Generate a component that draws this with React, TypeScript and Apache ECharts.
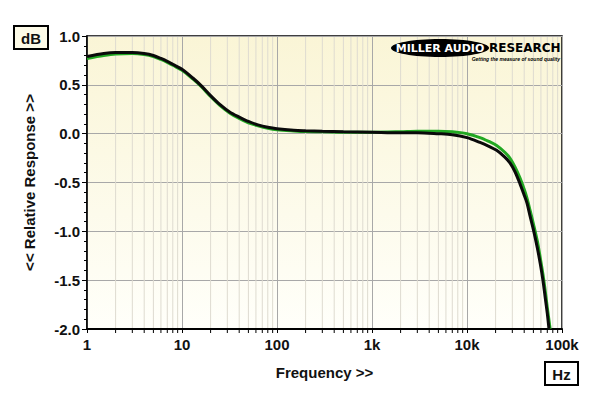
import React, { useEffect, useRef } from "react";
import * as echarts from "echarts";

const blackFreq = [1, 1.5, 2, 3, 4, 5, 6, 7, 8, 10, 13, 16, 20, 25, 32, 40, 50, 63, 80, 100, 150, 200, 300, 500, 1000, 2000, 3000, 5000, 7000, 10000, 13700, 17000, 20500, 25000, 28300, 32000, 36000, 40000, 42800, 46000, 50200, 55000, 59000, 63000, 66400, 70000, 73000];
const blackDb = [0.79, 0.82, 0.83, 0.83, 0.82, 0.8, 0.77, 0.74, 0.71, 0.66, 0.57, 0.49, 0.39, 0.3, 0.22, 0.17, 0.125, 0.09, 0.065, 0.05, 0.035, 0.03, 0.025, 0.02, 0.015, 0.01, 0.01, 0.0, -0.01, -0.04, -0.09, -0.13, -0.17, -0.24, -0.3, -0.39, -0.51, -0.63, -0.71, -0.84, -0.99, -1.17, -1.33, -1.5, -1.67, -1.84, -2.0];

const greenFreq = [1, 1.5, 2, 3, 4, 5, 6, 7, 8, 10, 13, 16, 20, 25, 32, 40, 50, 63, 80, 100, 150, 200, 300, 500, 1000, 2000, 3000, 5000, 7000, 10000, 13700, 17000, 20500, 25000, 28300, 32000, 36000, 40000, 42800, 46000, 50200, 55000, 59000, 63000, 66400, 70000, 75000];
const greenDb = [0.77, 0.8, 0.815, 0.82, 0.81, 0.79, 0.76, 0.73, 0.7, 0.65, 0.56, 0.48, 0.38, 0.29, 0.21, 0.155, 0.11, 0.08, 0.055, 0.04, 0.028, 0.022, 0.02, 0.015, 0.015, 0.02, 0.025, 0.025, 0.02, 0.0, -0.04, -0.08, -0.12, -0.19, -0.25, -0.34, -0.45, -0.57, -0.66, -0.78, -0.93, -1.1, -1.27, -1.44, -1.6, -1.78, -2.0];

const decadeLabels = ["1", "10", "100", "1k", "10k", "100k"];
const minorMultipliers = [2, 3, 4, 5, 6, 7, 8, 9];
const decades = [1, 10, 100, 1000, 10000];

const FONT = "'Liberation Sans', Arial, sans-serif";

export default function App() {
  const ref = useRef<HTMLDivElement>(null);
  useEffect(() => {
    if (!ref.current) return;
    const chart = echarts.init(ref.current, null, { renderer: "svg" });
    const minorLogs: number[][] = [];
    decades.forEach((d) => minorMultipliers.forEach((m) => minorLogs.push([Math.log10(d * m)])));
    const toPts = (f: number[], v: number[]) => f.map((x, i) => [Math.log10(x), v[i]]);

    chart.setOption({
      animation: false,
      backgroundColor: "#ffffff",
      grid: {
        left: 87,
        right: 38,
        top: 36,
        bottom: 70,
        show: true,
        borderColor: "#000",
        borderWidth: 1.5,
        backgroundColor: new echarts.graphic.LinearGradient(0, 0, 0, 1, [
          { offset: 0, color: "#faf5d6" },
          { offset: 1, color: "#fffffa" },
        ]),
      },
      xAxis: {
        type: "value",
        min: 0,
        max: 5,
        interval: 1,
        name: "Frequency >>",
        nameLocation: "middle",
        nameGap: 36,
        nameTextStyle: { fontFamily: FONT, fontWeight: "bold", fontSize: 15, color: "#111" },
        axisLine: { show: true, onZero: false, lineStyle: { color: "#000", width: 2 } },
        axisTick: { show: true, length: 4, lineStyle: { color: "#000", width: 1 } },
        axisLabel: {
          fontFamily: FONT,
          fontWeight: "bold",
          fontSize: 15,
          color: "#111",
          margin: 8,
          formatter: (v: number) => decadeLabels[Math.round(v)] ?? "",
        },
        splitLine: { show: true, lineStyle: { color: "#a8a8a8", width: 1 } },
      },
      yAxis: {
        type: "value",
        min: -2,
        max: 1,
        interval: 0.5,
        name: "<< Relative Response >>",
        nameLocation: "middle",
        nameGap: 50,
        nameRotate: 90,
        nameTextStyle: { fontFamily: FONT, fontWeight: "bold", fontSize: 15, color: "#111" },
        axisLine: { show: true, onZero: false, lineStyle: { color: "#000", width: 1.5 } },
        axisTick: { show: true, length: 5, lineStyle: { color: "#000" } },
        minorTick: { show: true, splitNumber: 5, length: 3, lineStyle: { color: "#000" } },
        axisLabel: {
          fontFamily: FONT,
          fontWeight: "bold",
          fontSize: 15,
          color: "#111",
          margin: 7,
          formatter: (v: number) => v.toFixed(1),
        },
        splitLine: { show: true, lineStyle: { color: "#a8a8a8", width: 1 } },
      },
      series: [
        {
          type: "custom",
          silent: true,
          clip: false,
          z: 1,
          data: minorLogs,
          renderItem: (params: any, api: any) => {
            const x = api.coord([api.value(0), 0])[0];
            const cs = params.coordSys;
            const top = cs.y;
            const bottom = cs.y + cs.height;
            return {
              type: "group",
              children: [
                { type: "line", shape: { x1: x, y1: top + 1, x2: x, y2: bottom - 1 }, style: { stroke: "#dedbd0", lineWidth: 1 } },
                { type: "line", shape: { x1: x, y1: bottom + 1, x2: x, y2: bottom + 4 }, style: { stroke: "#000", lineWidth: 1 } },
              ],
            };
          },
        },
        {
          type: "line",
          data: toPts(greenFreq, greenDb),
          smooth: 0.3,
          showSymbol: false,
          z: 3,
          lineStyle: { color: "#22a822", width: 3 },
        },
        {
          type: "line",
          data: toPts(blackFreq, blackDb),
          smooth: 0.3,
          showSymbol: false,
          z: 4,
          lineStyle: { color: "#0a0a0a", width: 3 },
        },
      ],
      graphic: [
        {
          type: "rect",
          shape: { x: 14, y: 26, width: 34, height: 23 },
          style: { fill: "#fdfbe8", stroke: "#000", lineWidth: 2 },
        },
        {
          type: "text",
          x: 31,
          y: 38,
          style: { text: "dB", font: `bold 15px ${FONT}`, fill: "#111", align: "center", verticalAlign: "middle" },
        },
        {
          type: "rect",
          shape: { x: 545, y: 362, width: 33, height: 23 },
          style: { fill: "#ffffff", stroke: "#000", lineWidth: 2 },
        },
        {
          type: "text",
          x: 561.5,
          y: 374,
          style: { text: "Hz", font: `bold 15px ${FONT}`, fill: "#111", align: "center", verticalAlign: "middle" },
        },
        {
          type: "ellipse",
          shape: { cx: 440, cy: 48, rx: 49, ry: 9 },
          style: { fill: "#000" },
          z: 10,
        },
        {
          type: "text",
          x: 440,
          y: 48,
          z: 11,
          style: { text: "MILLER AUDIO", font: `900 11px 'DejaVu Sans', sans-serif`, fill: "#fff", align: "center", verticalAlign: "middle" },
        },
        {
          type: "text",
          x: 489,
          y: 48,
          z: 11,
          style: { text: "RESEARCH", font: `900 12px 'DejaVu Sans', sans-serif`, fill: "#000", align: "left", verticalAlign: "middle" },
        },
        {
          type: "text",
          x: 560,
          y: 58.5,
          z: 11,
          style: { text: "Getting the measure of sound quality", font: `italic bold 5px ${FONT}`, fill: "#000", align: "right", verticalAlign: "middle" },
        },
      ],
    });
    return () => chart.dispose();
  }, []);
  return <div ref={ref} style={{ position: "fixed", left: 0, top: 0, width: 600, height: 399 }} />;
}
